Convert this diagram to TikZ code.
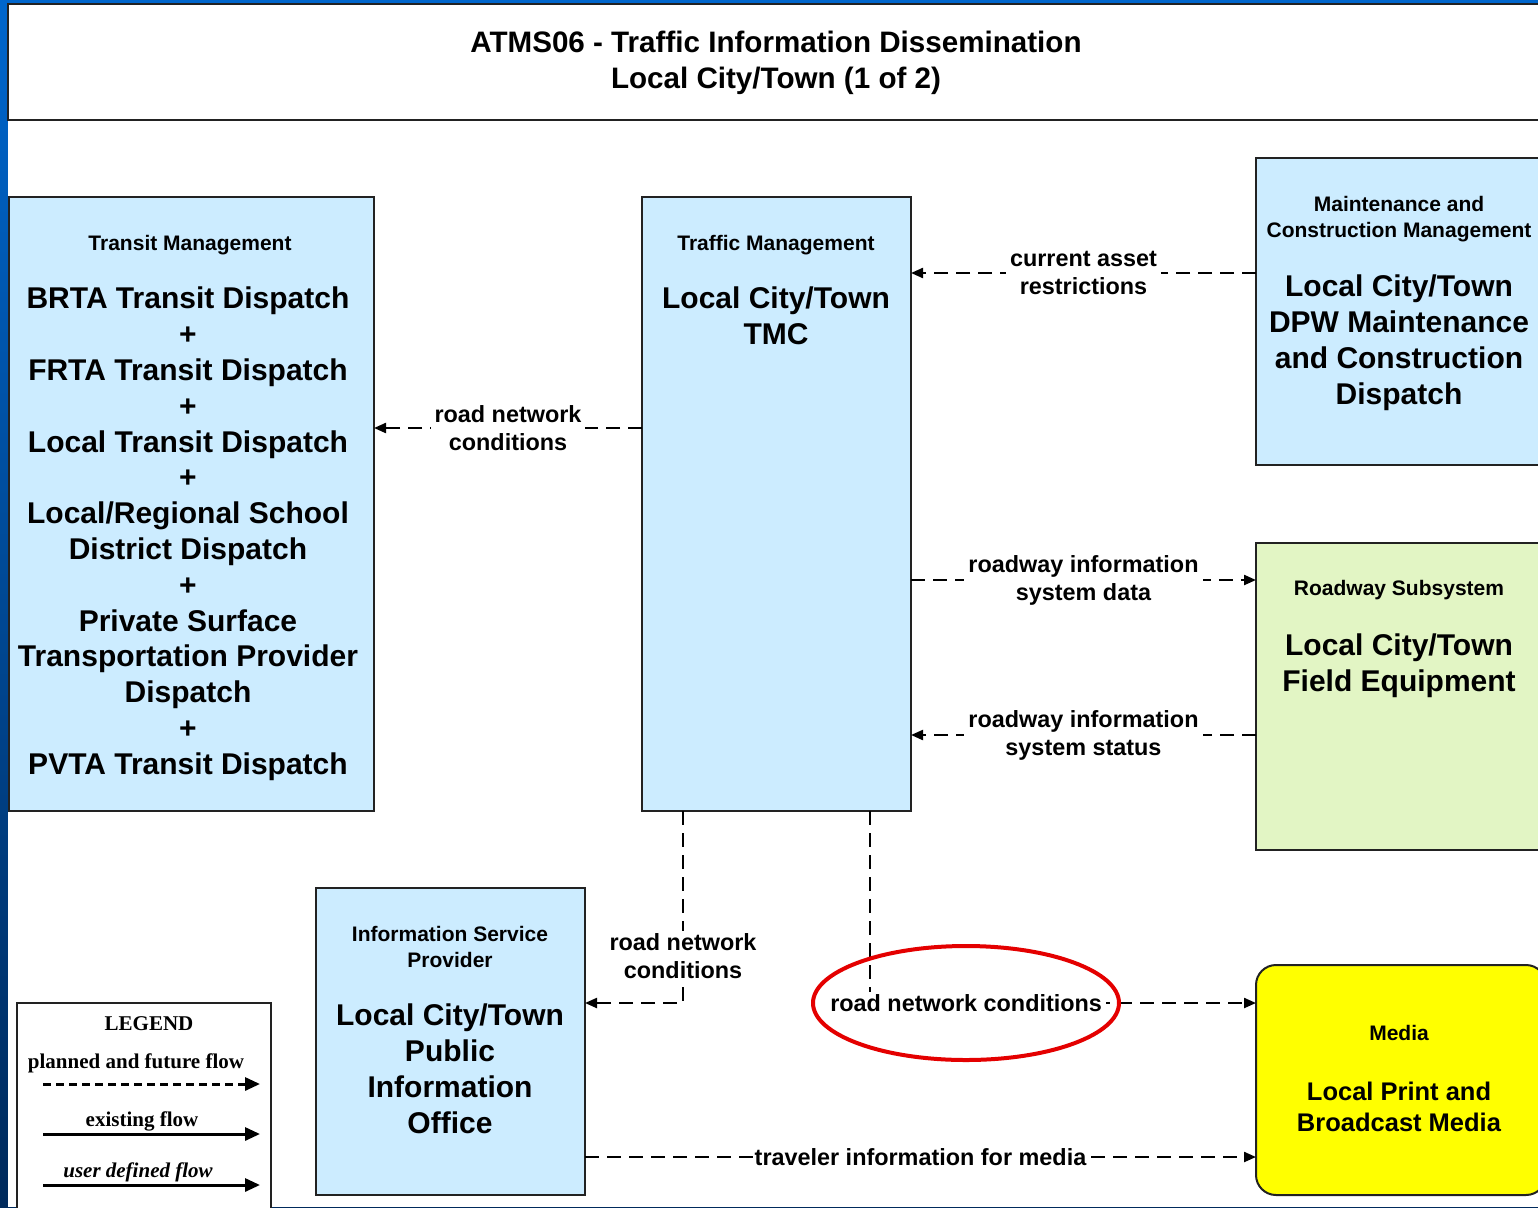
\documentclass[tikz,border=0pt]{standalone}
\usepackage{fontspec}
\setmainfont{Liberation Sans}
\newfontfamily\legendserif{Liberation Serif}
\usetikzlibrary{arrows.meta,calc,shapes.geometric}

\definecolor{slideblue}{RGB}{0,102,204}
\definecolor{slidedark}{RGB}{0,42,92}
\definecolor{entblue}{RGB}{204,236,255}
\definecolor{entgreen}{RGB}{226,245,196}
\definecolor{entyellow}{RGB}{255,255,0}
\definecolor{ringred}{RGB}{228,0,0}
\definecolor{edgegray}{RGB}{34,34,34}

% font sizes (1pt = 1 unit of the drawing)
\newcommand\ttlfont{\bfseries\fontsize{29.6}{36}\selectfont}
\newcommand\hdfont{\bfseries\fontsize{21}{25.7}\selectfont}
\newcommand\nmfont{\bfseries\fontsize{30}{35.8}\selectfont}
\newcommand\mdfont{\bfseries\fontsize{25.5}{31}\selectfont}
\newcommand\lbfont{\bfseries\fontsize{23.4}{28}\selectfont}
\newcommand\lgfont{\legendserif\bfseries\fontsize{21}{25}\selectfont}

\begin{document}
\begin{tikzpicture}[x=1pt,y=-1pt,
  box/.style={draw=edgegray,line width=2pt,anchor=north west,inner sep=0pt,outer sep=0pt},
  txt/.style={anchor=north,inner sep=0pt,align=center},
  flow/.style={line width=2.2pt,dash pattern=on 14pt off 8pt,
    -{Triangle[length=12pt,width=10pt]}},
  lbl/.style={fill=white,inner xsep=4pt,inner ysep=2pt,align=center,font=\lbfont},
  legarrow/.style={line width=3pt,-{Triangle[length=15pt,width=13pt]}}
]
\useasboundingbox (0,0) rectangle (1538,1207);
\clip (0,0) rectangle (1538,1207);

% slide background and white sheet
\shade[top color=slideblue,bottom color=slidedark] (0,0) rectangle (1538,1207);
\fill[white] (8,4) rectangle (1538,1207);

% title block
\node[box,fill=white,minimum width=1536,minimum height=116] (title) at (8,4) {};
\node[txt,font=\ttlfont] (titletext) at (776,31)
  {ATMS06 - Traffic Information Dissemination\\Local City/Town (1 of 2)};

% entities
\node[box,fill=entblue,minimum width=365,minimum height=614] (tm) at (9,197) {};
\node[txt,font=\hdfont] (tmhead) at (190,235) {Transit Management};
\node[txt,font=\nmfont] (tmname) at (188,287)
  {BRTA Transit Dispatch\\+\\FRTA Transit Dispatch\\+\\Local Transit Dispatch\\+\\
   Local/Regional School\\District Dispatch\\+\\Private Surface\\
   Transportation Provider\\Dispatch\\+\\PVTA Transit Dispatch};

\node[box,fill=entblue,minimum width=269,minimum height=614] (tmc) at (642,197) {};
\node[txt,font=\hdfont] (tmchead) at (776,235) {Traffic Management};
\node[txt,font=\nmfont] (tmcname) at (776,287) {Local City/Town\\TMC};

\node[box,fill=entblue,minimum width=290,minimum height=307] (maint) at (1256,158) {};
\node[txt,font=\hdfont] (mainthead) at (1399,196.5) {Maintenance and\\Construction Management};
\node[txt,font=\nmfont] (maintname) at (1399,275)
  {Local City/Town\\DPW Maintenance\\and Construction\\Dispatch};

\node[box,fill=entgreen,minimum width=290,minimum height=307] (road) at (1256,543) {};
\node[txt,font=\hdfont] (roadhead) at (1399,580) {Roadway Subsystem};
\node[txt,font=\nmfont] (roadname) at (1399,634) {Local City/Town\\Field Equipment};

\node[box,fill=entblue,minimum width=269,minimum height=307] (isp) at (316,888) {};
\node[txt,font=\hdfont] (isphead) at (450,926) {Information Service\\Provider};
\node[txt,font=\nmfont] (ispname) at (450,1004)
  {Local City/Town\\Public\\Information\\Office};

\node[box,fill=entyellow,rounded corners=20pt,minimum width=290,minimum height=230] (media) at (1256,965) {};
\node[txt,font=\hdfont] (mediahead) at (1399,1025) {Media};
\node[txt,font=\mdfont] (medianame) at (1399,1081.5) {Local Print and\\Broadcast Media};

% flow rows and bends
\coordinate (r1) at (0,273);
\coordinate (r2) at (0,428);
\coordinate (r3) at (0,580);
\coordinate (r4) at (0,735);
\coordinate (k5) at (683,1003);
\coordinate (k6) at (870,1003);
\coordinate (r7) at (0,1157);

% flows
\draw[flow] (maint.west |- r1) -- node[lbl]{current asset\\restrictions} (tmc.east |- r1);
\draw[flow] (tmc.west |- r2) -- node[lbl]{road network\\conditions} (tm.east |- r2);
\draw[flow] (tmc.east |- r3) -- node[lbl]{roadway information\\system data} (road.west |- r3);
\draw[flow] (road.west |- r4) -- node[lbl]{roadway information\\system status} (tmc.east |- r4);
\draw[flow] (tmc.south -| k5) -- node[lbl,pos=0.755]{road network\\conditions} (k5) -- (k5 -| isp.east);
\draw[flow] (tmc.south -| k6) -- (k6) -- node[lbl,pos=0.249]{road network conditions} (k6 -| media.west);
\draw[flow] (isp.east |- r7) -- node[lbl,inner xsep=2pt]{traveler information for media} (media.west |- r7);

% highlight ring
\node[draw=ringred,line width=4pt,ellipse,inner sep=0pt,minimum width=306,minimum height=114] (ring) at (966,1003) {};

% legend
\node[box,fill=white,minimum width=254,minimum height=220] (legend) at (17,1003) {};
\node[anchor=base,inner sep=0pt,font=\lgfont] (legtitle) at (149,1030) {LEGEND};
\node[anchor=base,inner sep=0pt,font=\lgfont] (legplan) at (136,1068) {planned and future flow};
\node[anchor=base,inner sep=0pt,font=\lgfont] (legexist) at (142,1126) {existing flow};
\node[anchor=base,inner sep=0pt,font=\lgfont\itshape] (leguser) at (138,1177) {user defined flow};
\coordinate (la1) at (43,1084);  \coordinate (lb1) at (260,1084);
\coordinate (la2) at (43,1134);  \coordinate (lb2) at (260,1134);
\coordinate (la3) at (43,1185);  \coordinate (lb3) at (260,1185);
\draw[legarrow,dash pattern=on 8pt off 5pt] (la1) -- (lb1);
\draw[legarrow] (la2) -- (lb2);
\draw[legarrow] (la3) -- (lb3);
\end{tikzpicture}
\end{document}
